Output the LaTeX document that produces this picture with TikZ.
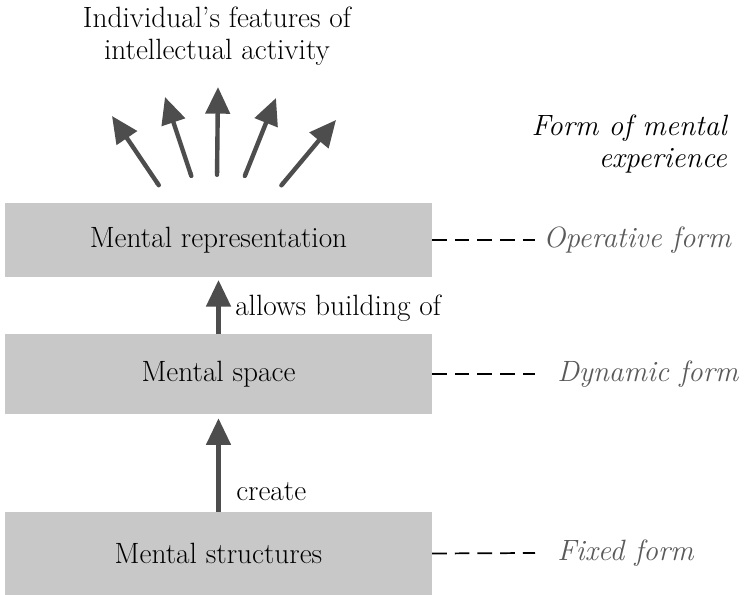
\documentclass[tikz,border=0pt]{standalone}
\usepackage{fontspec}
\usetikzlibrary{arrows.meta}

\definecolor{boxgray}{RGB}{200,200,200}
\definecolor{arrowgray}{RGB}{77,77,77}
\definecolor{formgray}{RGB}{90,90,90}

\begin{document}
\begin{tikzpicture}[x=0.75pt,y=-0.75pt,
    box/.style={fill=boxgray,minimum width=320pt,inner sep=0pt,font=\fontsize{22}{24}\selectfont},
    up/.style={draw=arrowgray,line width=3.6pt,-{Triangle[length=20pt,width=18pt]}},
    tie/.style={draw=black,line width=1.3pt,dash pattern=on 11pt off 6pt},
    formlabel/.style={anchor=west,text=formgray,font=\fontsize{22}{24}\selectfont\itshape,inner sep=0pt},
    plain/.style={font=\fontsize{22}{24}\selectfont,inner sep=0pt}]
        \useasboundingbox (0,0) rectangle (744,595);
        % the three levels
        \node[box,minimum height=55.5pt] (rep) at (218.5,240) {Mental representation};
        \node[box,minimum height=60pt] (space) at (218.5,374) {Mental space};
        \node[box,minimum height=62.25pt] (struct) at (218.5,553.5) {Mental structures};
        % upward arrows between levels
        \draw[up,shorten >=3pt] (struct.north) -- (space.south);
        \draw[up,shorten >=2pt] (space.north) -- (rep.south);
        \node[plain,anchor=west] (create) at (236,492) {create};
        \node[plain,anchor=west] (allows) at (235,308) {allows building of};
        % features on top
        \node[plain,align=center] (feat) at (217,36) {Individual's features of\\intellectual activity};
        \coordinate (t1) at (160,187); \coordinate (h1) at (112,116);
        \coordinate (t2) at (192,178); \coordinate (h2) at (165,97);
        \coordinate (t3) at (217,177); \coordinate (h3) at (218,87);
        \coordinate (t4) at (244,178); \coordinate (h4) at (276,98);
        \coordinate (t5) at (280,187); \coordinate (h5) at (336,120);
        \foreach \i in {1,...,5}
          \draw[up,line width=3.3pt,{Round Cap}-{Triangle[length=20pt,width=18pt]}] (t\i) -- (h\i);
        % forms of mental experience
        \node[plain,align=right,anchor=east,font=\fontsize{22}{24}\selectfont\itshape] (formhead) at (727,144) {Form of mental\\experience};
        \coordinate (d1) at (535,240);
        \coordinate (d2) at (535,374);
        \coordinate (d3) at (535,553);
        \node[formlabel] (operative) at (543,240) {Operative form};
        \node[formlabel] (dynamic) at (557,374) {Dynamic form};
        \node[formlabel] (fixed) at (557,553) {Fixed form};
        \draw[tie] (rep.east) -- (d1);
        \draw[tie] (space.east) -- (d2);
        \draw[tie] (struct.east) -- (d3);
      \end{tikzpicture}
\end{document}
